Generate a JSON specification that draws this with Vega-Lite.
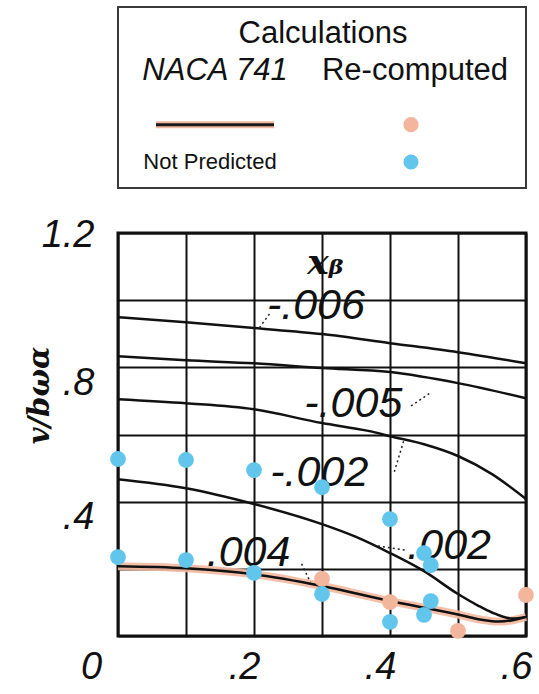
{
  "$schema": "https://vega.github.io/schema/vega-lite/v6.json",
  "background": "white",
  "padding": {"left": 23, "top": 6, "right": 0, "bottom": 0},
  "bounds": "flush",
  "spacing": 45,
  "config": {"font": "Liberation Sans"},
  "datasets": {
    "legend": [
      {"col": "Calculations", "row": "title", "kind": "title", "label": "Calculations"},
      {"col": "NACA 741", "row": "header", "kind": "head", "label": "NACA 741"},
      {"col": "Re-computed", "row": "header", "kind": "head", "label": "Re-computed"},
      {"col": "NACA 741", "row": "Predicted", "kind": "line"},
      {"col": "NACA 741", "row": "Not Predicted", "kind": "note", "label": "Not Predicted"},
      {"col": "Re-computed", "row": "Predicted", "kind": "dot", "status": "Re-computed"},
      {"col": "Re-computed", "row": "Not Predicted", "kind": "dot", "status": "Not Predicted"}
    ],
    "curves": [
      {"curve": "-.006", "x": 0.0, "y": 0.949},
      {"curve": "-.006", "x": 0.1, "y": 0.934},
      {"curve": "-.006", "x": 0.2, "y": 0.917},
      {"curve": "-.006", "x": 0.3, "y": 0.899},
      {"curve": "-.006", "x": 0.4, "y": 0.872},
      {"curve": "-.006", "x": 0.5, "y": 0.845},
      {"curve": "-.006", "x": 0.6, "y": 0.812},
      {"curve": "-.005", "x": 0.0, "y": 0.833},
      {"curve": "-.005", "x": 0.1, "y": 0.821},
      {"curve": "-.005", "x": 0.2, "y": 0.812},
      {"curve": "-.005", "x": 0.3, "y": 0.798},
      {"curve": "-.005", "x": 0.4, "y": 0.786},
      {"curve": "-.005", "x": 0.5, "y": 0.753},
      {"curve": "-.005", "x": 0.6, "y": 0.708},
      {"curve": "-.002", "x": 0.0, "y": 0.705},
      {"curve": "-.002", "x": 0.1, "y": 0.693},
      {"curve": "-.002", "x": 0.2, "y": 0.675},
      {"curve": "-.002", "x": 0.3, "y": 0.634},
      {"curve": "-.002", "x": 0.37, "y": 0.61},
      {"curve": "-.002", "x": 0.4, "y": 0.595},
      {"curve": "-.002", "x": 0.45, "y": 0.571},
      {"curve": "-.002", "x": 0.5, "y": 0.536},
      {"curve": "-.002", "x": 0.55, "y": 0.482},
      {"curve": "-.002", "x": 0.6, "y": 0.408},
      {"curve": ".002", "x": 0.0, "y": 0.467},
      {"curve": ".002", "x": 0.1, "y": 0.44},
      {"curve": ".002", "x": 0.2, "y": 0.393},
      {"curve": ".002", "x": 0.3, "y": 0.333},
      {"curve": ".002", "x": 0.35, "y": 0.295},
      {"curve": ".002", "x": 0.4, "y": 0.247},
      {"curve": ".002", "x": 0.45, "y": 0.193},
      {"curve": ".002", "x": 0.5, "y": 0.125},
      {"curve": ".002", "x": 0.53, "y": 0.09},
      {"curve": ".002", "x": 0.55, "y": 0.07},
      {"curve": ".002", "x": 0.58, "y": 0.052},
      {"curve": ".002", "x": 0.6, "y": 0.057},
      {"curve": ".004", "x": 0.0, "y": 0.208},
      {"curve": ".004", "x": 0.1, "y": 0.202},
      {"curve": ".004", "x": 0.2, "y": 0.184},
      {"curve": ".004", "x": 0.3, "y": 0.149},
      {"curve": ".004", "x": 0.4, "y": 0.104},
      {"curve": ".004", "x": 0.5, "y": 0.064},
      {"curve": ".004", "x": 0.53, "y": 0.05},
      {"curve": ".004", "x": 0.56, "y": 0.043},
      {"curve": ".004", "x": 0.58, "y": 0.047},
      {"curve": ".004", "x": 0.6, "y": 0.057}
    ],
    "leaders": [
      {"curve": "-.006", "x": 0.208, "y": 0.918, "x2": 0.225, "y2": 0.965},
      {"curve": "-.005", "x": 0.431, "y": 0.685, "x2": 0.46, "y2": 0.725},
      {"curve": "-.002", "x": 0.42, "y": 0.58, "x2": 0.405, "y2": 0.48},
      {"curve": ".004", "x": 0.27, "y": 0.215, "x2": 0.283, "y2": 0.16},
      {"curve": ".002", "x": 0.375, "y": 0.27, "x2": 0.425, "y2": 0.255}
    ],
    "notes": [
      {"text": "-.006", "x": 0.291, "y": 0.982},
      {"text": "-.005", "x": 0.346, "y": 0.69},
      {"text": "-.002", "x": 0.296, "y": 0.485},
      {"text": ".004", "x": 0.192, "y": 0.247},
      {"text": ".002", "x": 0.487, "y": 0.268}
    ],
    "symbol": [
      {"text": "xᵦ", "x": 0.305, "y": 1.11}
    ],
    "points": [
      {"status": "Re-computed", "x": 0.3, "y": 0.17},
      {"status": "Re-computed", "x": 0.4, "y": 0.101},
      {"status": "Re-computed", "x": 0.5, "y": 0.015},
      {"status": "Re-computed", "x": 0.6, "y": 0.122},
      {"status": "Not Predicted", "x": 0.0, "y": 0.527},
      {"status": "Not Predicted", "x": 0.1, "y": 0.524},
      {"status": "Not Predicted", "x": 0.2, "y": 0.494},
      {"status": "Not Predicted", "x": 0.3, "y": 0.443},
      {"status": "Not Predicted", "x": 0.0, "y": 0.235},
      {"status": "Not Predicted", "x": 0.1, "y": 0.226},
      {"status": "Not Predicted", "x": 0.2, "y": 0.188},
      {"status": "Not Predicted", "x": 0.3, "y": 0.125},
      {"status": "Not Predicted", "x": 0.4, "y": 0.348},
      {"status": "Not Predicted", "x": 0.45, "y": 0.247},
      {"status": "Not Predicted", "x": 0.46, "y": 0.211},
      {"status": "Not Predicted", "x": 0.46, "y": 0.104},
      {"status": "Not Predicted", "x": 0.45, "y": 0.063},
      {"status": "Not Predicted", "x": 0.4, "y": 0.042}
    ]
  },
  "vconcat": [
    {
      "width": 408,
      "height": 181,
      "view": {"stroke": "#3a3a3a", "strokeWidth": 2},
      "data": {"name": "legend"},
      "encoding": {
        "x": {
          "field": "col",
          "type": "nominal",
          "scale": {"type": "point", "domain": ["NACA 741", "Calculations", "Re-computed"], "range": [97, 293], "padding": 0},
          "axis": null
        },
        "y": {
          "field": "row",
          "type": "nominal",
          "scale": {"type": "point", "domain": ["title", "header", "Predicted", "Not Predicted"], "range": [43, 155], "padding": 0},
          "axis": null
        }
      },
      "layer": [
        {
          "transform": [{"filter": "datum.kind == 'title'"}],
          "mark": {"type": "text", "font": "Liberation Sans", "fontSize": 31, "baseline": "bottom", "dx": 10, "color": "#111111"},
          "encoding": {"text": {"field": "label"}}
        },
        {
          "transform": [{"filter": "datum.kind == 'head' && datum.col == 'NACA 741'"}],
          "mark": {"type": "text", "font": "Liberation Sans", "fontSize": 31, "fontStyle": "italic", "baseline": "bottom", "color": "#111111"},
          "encoding": {"text": {"field": "label"}}
        },
        {
          "transform": [{"filter": "datum.kind == 'head' && datum.col == 'Re-computed'"}],
          "mark": {"type": "text", "font": "Liberation Sans", "fontSize": 31, "baseline": "bottom", "dx": 4, "color": "#111111"},
          "encoding": {"text": {"field": "label"}}
        },
        {
          "transform": [{"filter": "datum.kind == 'note'"}],
          "mark": {"type": "text", "font": "Liberation Sans", "fontSize": 22, "dx": -5, "color": "#111111"},
          "encoding": {"text": {"field": "label"}}
        },
        {
          "transform": [{"filter": "datum.kind == 'line'"}],
          "mark": {"type": "tick", "orient": "horizontal", "size": 118, "thickness": 7, "color": "#F4B9A0", "opacity": 1}
        },
        {
          "transform": [{"filter": "datum.kind == 'line'"}],
          "mark": {"type": "tick", "orient": "horizontal", "size": 118, "thickness": 3, "color": "#1a1a1a", "opacity": 1}
        },
        {
          "transform": [{"filter": "datum.kind == 'dot'"}],
          "mark": {"type": "circle", "size": 230, "opacity": 1},
          "encoding": {
            "color": {
              "field": "status",
              "type": "nominal",
              "scale": {"domain": ["Re-computed", "Not Predicted"], "range": ["#F3B59C", "#62C5EC"]},
              "legend": null
            }
          }
        }
      ]
    },
    {
      "width": 408,
      "height": 403,
      "view": {"stroke": "#111111", "strokeWidth": 3},
      "encoding": {
        "x": {
          "field": "x",
          "type": "quantitative",
          "scale": {"domain": [0, 0.6], "nice": false, "zero": false},
          "axis": {
            "title": null,
            "values": [0, 0.1, 0.2, 0.3, 0.4, 0.5, 0.6],
            "grid": true,
            "gridColor": "#111111",
            "gridWidth": 2,
            "ticks": false,
            "domain": false,
            "labelExpr": "datum.value < 0.01 ? '0' : (round(datum.value * 10) % 2 == 0 ? '.' + round(datum.value * 10) : '')",
            "labelFont": "Liberation Sans",
            "labelFontStyle": "italic",
            "labelFontSize": 38,
            "labelColor": "#111111",
            "labelPadding": 12,
            "labelOffset": {"condition": {"test": "datum.value < 0.01", "value": -27}, "value": -10},
            "labelFlush": false,
            "labelOverlap": false,
            "labelBound": false
          }
        },
        "y": {
          "field": "y",
          "type": "quantitative",
          "scale": {"domain": [0, 1.2], "nice": false, "zero": false},
          "axis": {
            "title": "v/bωα",
            "values": [0, 0.2, 0.4, 0.6, 0.8, 1.0, 1.2],
            "grid": true,
            "gridColor": "#111111",
            "gridWidth": 2,
            "ticks": false,
            "domain": false,
            "labelExpr": "(round(datum.value * 10) % 4 == 0 && datum.value > 0.01) ? (datum.value > 1 ? '1.2' : '.' + round(datum.value * 10)) : ''",
            "labelFont": "Liberation Sans",
            "labelFontStyle": "italic",
            "labelFontSize": 38,
            "labelColor": "#111111",
            "labelPadding": 24,
            "labelOffset": {"condition": {"test": "datum.value > 1", "value": 2}, "value": 16},
            "labelFlush": false,
            "labelOverlap": false,
            "labelBound": false,
            "titleFont": "DejaVu Serif",
            "titleFontStyle": "italic",
            "titleFontWeight": "bold",
            "titleFontSize": 29,
            "titleColor": "#111111",
            "titleAngle": -90,
            "titleAlign": "center",
            "titleBaseline": "middle",
            "titleX": -79,
            "titleY": 162
          }
        }
      },
      "layer": [
        {
          "data": {"name": "curves"},
          "transform": [{"filter": "datum.curve == '.004'"}],
          "mark": {"type": "line", "interpolate": "monotone", "color": "#F4B9A0", "strokeWidth": 8, "opacity": 0.9},
          "encoding": {"detail": {"field": "curve"}}
        },
        {
          "data": {"name": "curves"},
          "mark": {"type": "line", "interpolate": "monotone", "color": "#111111", "strokeWidth": 2.5},
          "encoding": {"detail": {"field": "curve"}}
        },
        {
          "data": {"name": "leaders"},
          "mark": {"type": "rule", "color": "#222222", "strokeWidth": 1.5, "strokeDash": [2, 3]},
          "encoding": {"x2": {"field": "x2"}, "y2": {"field": "y2"}}
        },
        {
          "data": {"name": "notes"},
          "mark": {"type": "text", "font": "Liberation Sans", "fontStyle": "italic", "fontSize": 43, "align": "center", "baseline": "middle", "color": "#111111"},
          "encoding": {"text": {"field": "text"}}
        },
        {
          "data": {"name": "symbol"},
          "mark": {"type": "text", "font": "DejaVu Serif", "fontStyle": "italic", "fontWeight": "bold", "fontSize": 36, "align": "center", "baseline": "middle", "color": "#111111"},
          "encoding": {"text": {"field": "text"}}
        },
        {
          "data": {"name": "points"},
          "mark": {"type": "circle", "size": 250, "opacity": 1},
          "encoding": {
            "color": {
              "field": "status",
              "type": "nominal",
              "scale": {"domain": ["Re-computed", "Not Predicted"], "range": ["#F3B59C", "#62C5EC"]},
              "legend": null
            }
          }
        }
      ]
    }
  ]
}
